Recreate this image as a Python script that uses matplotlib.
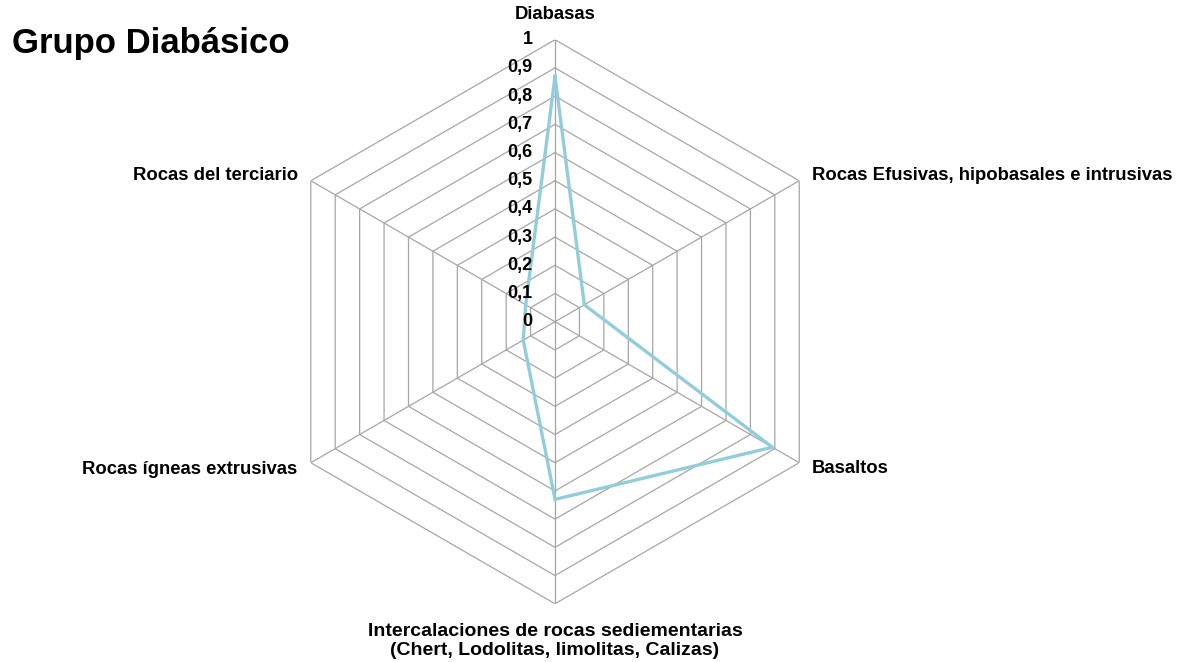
import numpy as np
import matplotlib.pyplot as plt

plt.rcParams['font.family'] = ['Liberation Sans', 'DejaVu Sans']

# === Data ===
categories = [
    "Diabasas",
    "Rocas Efusivas, hipobasales e intrusivas",
    "Basaltos",
    "Intercalaciones de rocas sediementarias\n(Chert, Lodolitas, limolitas, Calizas)",
    "Rocas ígneas extrusivas",
    "Rocas del terciario",
]
values = [0.87, 0.12, 0.89, 0.63, 0.13, 0.12]
ring_levels = [0.1, 0.2, 0.3, 0.4, 0.5, 0.6, 0.7, 0.8, 0.9, 1.0]
ring_labels = ["0", "0,1", "0,2", "0,3", "0,4", "0,5", "0,6", "0,7", "0,8", "0,9", "1"]

# label offsets (points) and alignment per category
label_pos = [
    ((0, 18), "center", "center"),
    ((9, 4), "left", "center"),
    ((9, -4), "left", "center"),
    ((0, -14), "center", "top"),
    ((-10, -5), "right", "center"),
    ((-9, 4), "right", "center"),
]

grid_color = "#a6a6a6"
line_color = "#92cddc"

n = len(categories)
angles = np.linspace(0, 2 * np.pi, n, endpoint=False)
closed = np.append(angles, angles[0])

fig = plt.figure(figsize=(11.99, 6.62), dpi=100)
ax = fig.add_axes([0.2277, 0.088, 0.4704, 0.852], projection="polar")
ax.set_theta_offset(np.pi / 2)
ax.set_theta_direction(-1)
ax.set_ylim(0, 1)
ax.grid(False)
ax.spines["polar"].set_visible(False)
ax.set_xticks([])
ax.set_yticks([])
ax.patch.set_alpha(0)

# hexagonal rings and spokes
for r in ring_levels:
    ax.plot(closed, [r] * (n + 1), color=grid_color, lw=0.9, zorder=1)
for a in angles:
    ax.plot([a, a], [0, 1], color=grid_color, lw=0.9, zorder=1)

# series
ax.plot(closed, values + values[:1], color=line_color, lw=2.4,
        solid_joinstyle="miter", zorder=3)

# radial value labels
for r, lbl in zip([0.0] + ring_levels, ring_labels):
    ax.annotate(lbl, (0, r), xytext=(-16, 0), textcoords="offset points",
                ha="right", va="center", fontsize=13, fontweight="bold")

# category labels
for i, (a, cat, (off, ha, va)) in enumerate(zip(angles, categories, label_pos)):
    ax.annotate(cat, (a, 1), xytext=off, textcoords="offset points",
                ha=ha, va=va, fontsize=14 if i == 3 else 13.3,
                fontweight="bold", multialignment="center",
                linespacing=1.15, annotation_clip=False)

fig.text(0.01, 0.935, "Grupo Diabásico", fontsize=25, fontweight="bold",
         ha="left", va="center")

fig.savefig("out.png", dpi=100)
